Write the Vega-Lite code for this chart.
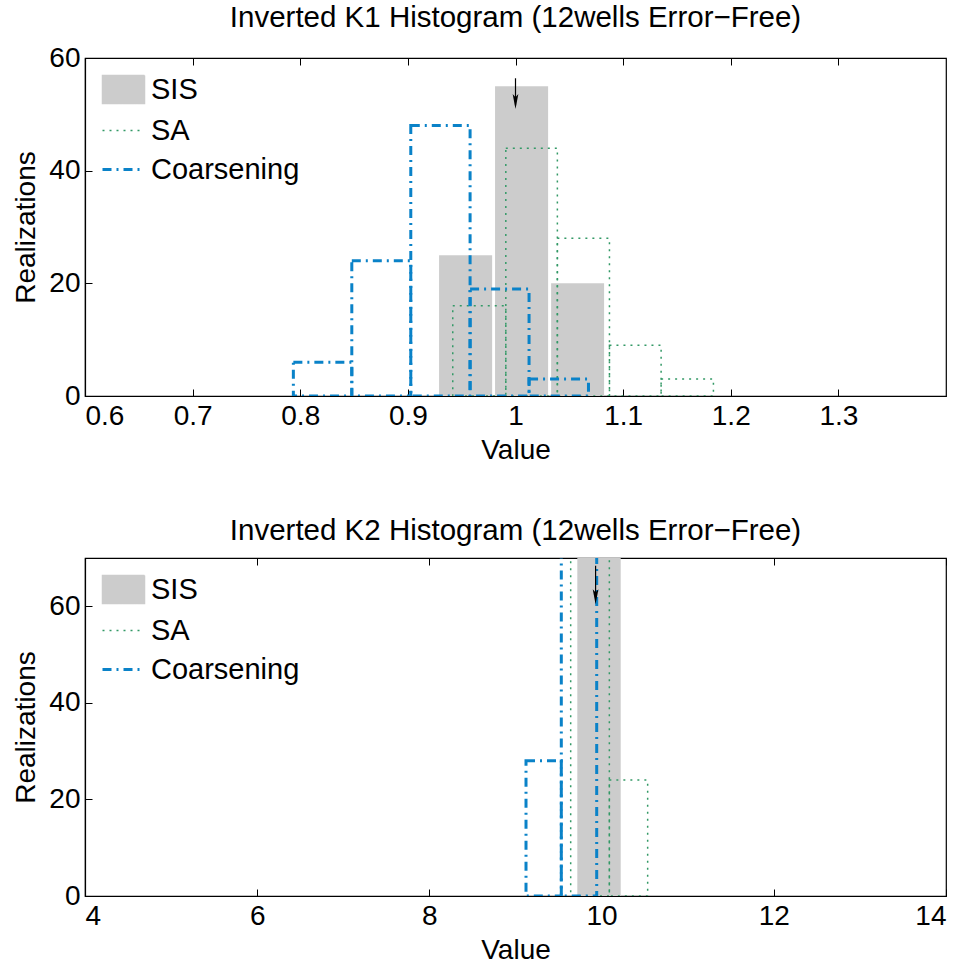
{
  "$schema": "https://vega.github.io/schema/vega-lite/v6.json",
  "padding": {"left": 12, "top": 1, "right": 10, "bottom": 0},
  "background": "white",
  "datasets": {
    "k1": [
      {"series": "SIS", "x0": 0.929, "x1": 0.9783, "count": 25},
      {"series": "SIS", "x0": 0.981, "x1": 1.0303, "count": 55},
      {"series": "SIS", "x0": 1.0331, "x1": 1.0823, "count": 20},
      {"series": "SA", "x0": 0.9417, "x1": 0.991, "count": 16},
      {"series": "SA", "x0": 0.991, "x1": 1.0389, "count": 44},
      {"series": "SA", "x0": 1.0389, "x1": 1.0873, "count": 28},
      {"series": "SA", "x0": 1.0873, "x1": 1.1353, "count": 9},
      {"series": "SA", "x0": 1.1353, "x1": 1.1839, "count": 3},
      {"series": "Coarsening", "x0": 0.7936, "x1": 0.8479, "count": 6},
      {"series": "Coarsening", "x0": 0.8479, "x1": 0.9027, "count": 24},
      {"series": "Coarsening", "x0": 0.9027, "x1": 0.9578, "count": 48},
      {"series": "Coarsening", "x0": 0.9578, "x1": 1.0126, "count": 19},
      {"series": "Coarsening", "x0": 1.0126, "x1": 1.0678, "count": 3}
    ],
    "k2": [
      {"series": "SIS", "x0": 9.718, "x1": 10.222, "count": 100},
      {"series": "SA", "x0": 9.641, "x1": 10.09, "count": 76},
      {"series": "SA", "x0": 10.09, "x1": 10.535, "count": 24},
      {"series": "Coarsening", "x0": 9.122, "x1": 9.532, "count": 28},
      {"series": "Coarsening", "x0": 9.532, "x1": 9.943, "count": 72}
    ],
    "a1": [{"x": 1.0, "ytop": 56.4, "ybot": 51.6, "yhead": 52.3}],
    "a2": [{"x": 9.93, "ytop": 68.4, "ybot": 62.6, "yhead": 62.0}]
  },
  "config": {
    "font": "Liberation Sans",
    "view": {"stroke": "black", "strokeWidth": 1.2},
    "axis": {
      "grid": false,
      "labelFont": "Liberation Sans",
      "titleFont": "Liberation Sans",
      "labelFontSize": 28,
      "titleFontSize": 28,
      "titleFontWeight": "normal",
      "labelColor": "black",
      "titleColor": "black",
      "domainColor": "black",
      "domainWidth": 1.2,
      "tickColor": "black",
      "tickSize": -7,
      "labelPadding": 13
    },
    "axisX": {"titlePadding": 6},
    "axisY": {"titlePadding": 8, "labelPadding": 12},
    "title": {"fontSize": 29.5, "fontWeight": "normal", "color": "black", "font": "Liberation Sans", "offset": 11},
    "legend": {"labelFontSize": 29, "labelFont": "Liberation Sans", "labelColor": "black"}
  },
  "resolve": {
    "scale": {"x": "independent", "y": "independent", "color": "independent"},
    "legend": {"color": "independent"}
  },
  "spacing": 50,
  "vconcat": [
    {
      "width": 861,
      "height": 338,
      "title": "Inverted K1 Histogram (12wells Error−Free)",
      "resolve": {"axis": {"x": "independent"}},
      "layer": [
        {
          "data": {"name": "k1"},
          "transform": [{"filter": "datum.series === 'SIS'"}],
          "mark": {"type": "rect", "clip": true},
          "encoding": {
            "x": {"field": "x0", "type": "quantitative", "scale": {"domain": [0.6, 1.4], "nice": false, "zero": false},
                  "axis": {"title": "Value", "values": [0.6, 0.7, 0.8, 0.9, 1, 1.1, 1.2, 1.3], "format": "~g"}},
            "x2": {"field": "x1"},
            "y": {"field": "count", "type": "quantitative", "scale": {"domain": [0, 60], "nice": false},
                  "axis": {"title": "Realizations", "values": [0, 20, 40, 60]}},
            "y2": {"datum": 0},
            "color": {"field": "series", "type": "nominal",
              "scale": {"domain": ["SIS", "SA", "Coarsening"], "range": ["#cccccc", "#339966", "#0a82c8"]},
              "legend": {
                "title": null, "orient": "none", "legendX": 24, "legendY": 17, "padding": 0,
                "symbolSize": 1764, "symbolType": "M-1,-0.667H1V0.667H-1Z",
                "rowPadding": 9, "labelOffset": 13,
                "encode": {"symbols": {"update": {
                  "shape": {"signal": "datum.value === 'SIS' ? 'M-1,-0.667H1V0.667H-1Z' : 'M-1,0H1'"},
                  "fill": {"signal": "datum.value === 'SIS' ? '#cccccc' : 'transparent'"},
                  "stroke": {"signal": "datum.value === 'SIS' ? 'transparent' : (datum.value === 'SA' ? '#339966' : '#0a82c8')"},
                  "strokeDash": {"signal": "datum.value === 'SA' ? [2,5] : (datum.value === 'Coarsening' ? [9,5,2,5] : [1,0])"},
                  "strokeWidth": {"signal": "datum.value === 'Coarsening' ? 3 : 1.5"},
                  "opacity": {"value": 1}
                }}}
              }}
          }
        },
        {
          "data": {"name": "k1"},
          "transform": [{"filter": "datum.series === 'SA'"}],
          "mark": {"type": "rect", "filled": false, "strokeDash": [2, 5], "strokeWidth": 1.5, "clip": true, "opacity": 1},
          "encoding": {
            "x": {"field": "x0", "type": "quantitative", "axis": null},
            "x2": {"field": "x1"},
            "y": {"field": "count", "type": "quantitative"},
            "y2": {"datum": 0},
            "color": {"field": "series", "type": "nominal"}
          }
        },
        {
          "data": {"name": "k1"},
          "transform": [{"filter": "datum.series === 'Coarsening'"}],
          "mark": {"type": "rect", "filled": false, "strokeDash": [9, 5, 2, 5], "strokeWidth": 3, "clip": true, "opacity": 1},
          "encoding": {
            "x": {"field": "x0", "type": "quantitative", "axis": null},
            "x2": {"field": "x1"},
            "y": {"field": "count", "type": "quantitative"},
            "y2": {"datum": 0},
            "color": {"field": "series", "type": "nominal"}
          }
        },
        {
          "data": {"name": "a1"},
          "mark": {"type": "rule", "color": "black", "strokeWidth": 1.2},
          "encoding": {
            "x": {"field": "x", "type": "quantitative",
                  "axis": {"orient": "top", "labels": false, "title": null, "domain": false, "values": [0.6, 0.7, 0.8, 0.9, 1, 1.1, 1.2, 1.3]}},
            "y": {"field": "ytop", "type": "quantitative"},
            "y2": {"field": "ybot"}
          }
        },
        {
          "data": {"name": "a1"},
          "mark": {"type": "point", "filled": true, "color": "black", "opacity": 1, "size": 225,
                   "shape": "M-0.38,-1L0,1L0.38,-1L0,-0.55Z"},
          "encoding": {
            "x": {"field": "x", "type": "quantitative", "axis": null},
            "y": {"field": "yhead", "type": "quantitative"}
          }
        }
      ]
    },
    {
      "width": 861,
      "height": 338,
      "title": "Inverted K2 Histogram (12wells Error−Free)",
      "resolve": {"axis": {"x": "independent"}},
      "layer": [
        {
          "data": {"name": "k2"},
          "transform": [{"filter": "datum.series === 'SIS'"}],
          "mark": {"type": "rect", "clip": true},
          "encoding": {
            "x": {"field": "x0", "type": "quantitative", "scale": {"domain": [4, 14], "nice": false, "zero": false},
                  "axis": {"title": "Value", "values": [4, 6, 8, 10, 12, 14]}},
            "x2": {"field": "x1"},
            "y": {"field": "count", "type": "quantitative", "scale": {"domain": [0, 70], "nice": false},
                  "axis": {"title": "Realizations", "values": [0, 20, 40, 60]}},
            "y2": {"datum": 0},
            "color": {"field": "series", "type": "nominal",
              "scale": {"domain": ["SIS", "SA", "Coarsening"], "range": ["#cccccc", "#339966", "#0a82c8"]},
              "legend": {
                "title": null, "orient": "none", "legendX": 24, "legendY": 17, "padding": 0,
                "symbolSize": 1764, "symbolType": "M-1,-0.667H1V0.667H-1Z",
                "rowPadding": 9, "labelOffset": 13,
                "encode": {"symbols": {"update": {
                  "shape": {"signal": "datum.value === 'SIS' ? 'M-1,-0.667H1V0.667H-1Z' : 'M-1,0H1'"},
                  "fill": {"signal": "datum.value === 'SIS' ? '#cccccc' : 'transparent'"},
                  "stroke": {"signal": "datum.value === 'SIS' ? 'transparent' : (datum.value === 'SA' ? '#339966' : '#0a82c8')"},
                  "strokeDash": {"signal": "datum.value === 'SA' ? [2,5] : (datum.value === 'Coarsening' ? [9,5,2,5] : [1,0])"},
                  "strokeWidth": {"signal": "datum.value === 'Coarsening' ? 3 : 1.5"},
                  "opacity": {"value": 1}
                }}}
              }}
          }
        },
        {
          "data": {"name": "k2"},
          "transform": [{"filter": "datum.series === 'SA'"}],
          "mark": {"type": "rect", "filled": false, "strokeDash": [2, 5], "strokeWidth": 1.5, "clip": true, "opacity": 1},
          "encoding": {
            "x": {"field": "x0", "type": "quantitative", "axis": null},
            "x2": {"field": "x1"},
            "y": {"field": "count", "type": "quantitative"},
            "y2": {"datum": 0},
            "color": {"field": "series", "type": "nominal"}
          }
        },
        {
          "data": {"name": "k2"},
          "transform": [{"filter": "datum.series === 'Coarsening'"}],
          "mark": {"type": "rect", "filled": false, "strokeDash": [9, 5, 2, 5], "strokeWidth": 3, "clip": true, "opacity": 1},
          "encoding": {
            "x": {"field": "x0", "type": "quantitative", "axis": null},
            "x2": {"field": "x1"},
            "y": {"field": "count", "type": "quantitative"},
            "y2": {"datum": 0},
            "color": {"field": "series", "type": "nominal"}
          }
        },
        {
          "data": {"name": "a2"},
          "mark": {"type": "rule", "color": "black", "strokeWidth": 1.2},
          "encoding": {
            "x": {"field": "x", "type": "quantitative",
                  "axis": {"orient": "top", "labels": false, "title": null, "domain": false, "values": [4, 6, 8, 10, 12, 14]}},
            "y": {"field": "ytop", "type": "quantitative"},
            "y2": {"field": "ybot"}
          }
        },
        {
          "data": {"name": "a2"},
          "mark": {"type": "point", "filled": true, "color": "black", "opacity": 1, "size": 225,
                   "shape": "M-0.38,-1L0,1L0.38,-1L0,-0.55Z"},
          "encoding": {
            "x": {"field": "x", "type": "quantitative", "axis": null},
            "y": {"field": "yhead", "type": "quantitative"}
          }
        }
      ]
    }
  ]
}
